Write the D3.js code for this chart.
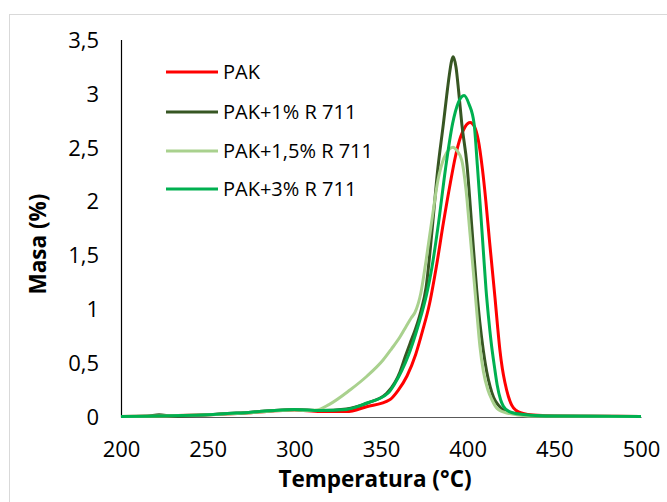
<!DOCTYPE html>
<html><head><meta charset="utf-8">
<script src="https://cdn.jsdelivr.net/npm/d3@7"></script>
<style>html,body{margin:0;padding:0;background:#fff;}svg{display:block;}</style>
</head><body>
<svg id="c" width="667" height="502"></svg>
<script>
// ---- data ----
const seriesNames = ["PAK", "PAK+1% R 711", "PAK+1,5% R 711", "PAK+3% R 711"];
const xTicks = [200, 250, 300, 350, 400, 450, 500];
const yTicks = [0, 0.5, 1, 1.5, 2, 2.5, 3, 3.5];

const tPAK = [200,225,250,275,300,315,330,341.7,355,360,365,370,374,378,382,386,390,393,396,398.5,401.4,404,406.1,408.5,410.5,412.5,414.3,415.8,417.2,418.6,420,421.5,423.5,425.4,428,432,437.7,450,475,500];
const vPAK = [0.005,0.01,0.02,0.04,0.065,0.05,0.05,0.095,0.16,0.25,0.38,0.58,0.8,1.05,1.4,1.8,2.17,2.42,2.6,2.69,2.73,2.69,2.57,2.3,2.0,1.65,1.35,1.1,0.85,0.62,0.45,0.32,0.19,0.11,0.06,0.034,0.018,0.01,0.007,0.005];

const tPAK1 = [200,215,222,230,250,275,300,315,330,341.7,353.3,358,361,364,366.7,370,373,376,379.5,382.7,386,387.9,389.4,390.7,391.7,393.3,394.8,396.6,399.6,402.4,405.2,407,409,411,413,415,417.7,421,426.2,440,470,500];
const vPAK1 = [0.005,0.008,0.02,0.008,0.02,0.045,0.07,0.06,0.075,0.127,0.22,0.32,0.42,0.56,0.68,0.82,0.98,1.2,1.74,2.29,2.72,2.98,3.17,3.3,3.34,3.24,3.02,2.72,2.34,1.76,1.18,0.88,0.62,0.42,0.28,0.18,0.11,0.06,0.034,0.01,0.006,0.005];

const tPAK15 = [200,225,250,275,300,306,312.9,320,332.1,342,351.2,356,361,364.5,367.5,369.6,373,376,379.4,382.9,386.3,389.2,391.5,393.8,396.6,399.1,401.4,403.7,405.4,407.1,409.1,411.7,414,416.9,422.7,435,470,500];
const vPAK15 = [0.005,0.01,0.02,0.04,0.065,0.06,0.065,0.115,0.25,0.38,0.528,0.63,0.744,0.84,0.92,0.97,1.15,1.45,1.83,2.2,2.4,2.48,2.5,2.47,2.38,2.1,1.69,1.27,0.95,0.65,0.42,0.25,0.16,0.08,0.037,0.01,0.006,0.005];

const tPAK3 = [200,225,250,275,300,315,330,341.9,354,358,362,366,370,373.5,376.5,379.3,383.2,387.2,391.3,394.5,397.9,400.8,403.7,405.6,407.5,409,410.6,412,413.5,415.5,417,419,420.6,424,428.3,445,500];
const vPAK3 = [0.005,0.01,0.02,0.045,0.07,0.06,0.07,0.13,0.22,0.31,0.43,0.58,0.77,0.96,1.15,1.38,1.8,2.3,2.72,2.91,2.98,2.9,2.72,2.33,1.9,1.55,1.18,0.93,0.7,0.46,0.3,0.16,0.1,0.05,0.03,0.01,0.005];

const seriesT = [tPAK, tPAK1, tPAK15, tPAK3];
const seriesV = [vPAK, vPAK1, vPAK15, vPAK3];
const colors = ["#ff0000", "#375623", "#a9d18e", "#00b050"];

// ---- drawing ----
const svg = d3.select("#c");
svg.append("rect").attr("x", 9.5).attr("y", 14.5).attr("width", 700).attr("height", 600)
  .attr("fill", "#fff").attr("stroke", "#d9d9d9").attr("stroke-width", 1);

const x = d3.scaleLinear().domain([200, 500]).range([121, 641]);
const y = d3.scaleLinear().domain([0, 3.5]).range([417, 39.5]);

const font = "'Open Sans', 'Liberation Sans', Arial, sans-serif";

// x axis
const xAxis = d3.axisBottom(x).tickValues(xTicks).tickSize(0).tickPadding(0).tickFormat(d3.format("d"));
const gx = svg.append("g").attr("transform", "translate(0,417)").call(xAxis);
gx.select(".domain").attr("stroke", "#595959").attr("stroke-width", 1.2);
gx.selectAll("text").attr("dy", null).attr("y", 40).attr("font-size", 22).attr("font-family", font).attr("fill", "#000");

// y axis
const fmtY = d => d3.format("")(d).replace(".", ",");
const yAxis = d3.axisLeft(y).tickValues(yTicks).tickSize(0).tickPadding(0).tickFormat(fmtY);
const gy = svg.append("g").attr("transform", "translate(121,0)").call(yAxis);
gy.select(".domain").attr("stroke", "#000").attr("stroke-width", 1.2);
gy.selectAll("text").attr("x", -22).attr("dy", "0.35em").attr("font-size", 22).attr("font-family", font).attr("fill", "#000");

// lines
const line = d3.line().x(d => x(d[0])).y(d => y(d[1])).curve(d3.curveMonotoneX);
seriesNames.forEach((n, i) => {
  const pts = seriesT[i].map((t, j) => [t, seriesV[i][j]]);
  svg.append("path").datum(pts).attr("d", line).attr("fill", "none")
    .attr("stroke", colors[i]).attr("stroke-width", 3).attr("stroke-linejoin", "round");
});

// legend
const legY = [72, 112, 151, 189];
seriesNames.forEach((n, i) => {
  svg.append("line").attr("x1", 166).attr("x2", 218).attr("y1", legY[i]).attr("y2", legY[i])
    .attr("stroke", colors[i]).attr("stroke-width", 3);
  svg.append("text").attr("x", 223).attr("y", legY[i]).attr("dy", "0.35em")
    .attr("font-size", 20).attr("font-family", font).attr("fill", "#000").text(n);
});

// axis titles
svg.append("text").attr("x", 375).attr("y", 479).attr("dy", "0.35em").attr("text-anchor", "middle")
  .attr("font-size", 22.5).attr("font-weight", "bold").attr("font-family", font).text("Temperatura (°C)");
svg.append("text").attr("transform", "translate(38,244) rotate(-90)").attr("dy", "0.35em").attr("text-anchor", "middle")
  .attr("font-size", 22.5).attr("font-weight", "bold").attr("font-family", font).text("Masa (%)");
</script>
</body></html>
